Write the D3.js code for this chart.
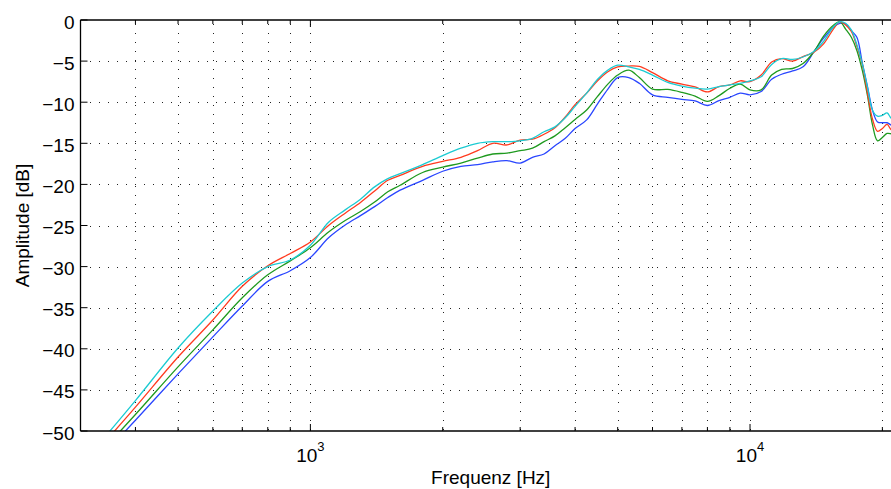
<!DOCTYPE html>
<html><head><meta charset="utf-8">
<script src="https://cdn.jsdelivr.net/npm/d3@7"></script>
<style>
body{margin:0;background:#fff;}
svg{display:block;}
text{font-family:"Liberation Sans",Arial,Helvetica,sans-serif;fill:#000;}
</style></head><body>
<svg id="chart" width="891" height="489"></svg>
<script>
// ---- data ----
const freqs = [340,400,500,600,700,800,900,1000,1100,1200,1300,1400,1500,1600,1800,2000,2200,2400,2600,2800,3000,3200,3400,3600,3800,4000,4250,4500,4750,5000,5300,5600,6000,6500,7000,7500,8000,8500,9000,9500,10000,10600,11200,11800,12500,13200,14000,14700,15500,16000,16500,17000,17500,18000,18500,19000,19500,20000,20500,21000,22050];
const cyanDb = [-50.8,-46.3,-39.9,-35.4,-32.0,-30.0,-29.2,-27.4,-24.6,-23.1,-21.8,-20.3,-19.3,-18.7,-17.6,-16.5,-15.6,-15.0,-14.8,-14.8,-14.7,-14.4,-13.6,-13.0,-11.9,-10.5,-8.9,-7.2,-6.1,-5.5,-5.7,-6.0,-6.7,-7.6,-8.05,-8.3,-8.4,-8.1,-7.9,-7.7,-7.4,-6.9,-5.4,-4.7,-4.8,-4.5,-3.8,-2.6,-0.8,-0.2,-0.4,-1.2,-3.0,-5.3,-8.2,-11.0,-11.7,-11.6,-11.3,-12.0,-12.2];
const redDb = [-51.4,-47.1,-41.0,-36.5,-32.4,-29.9,-28.4,-27.0,-25.0,-23.5,-22.2,-20.8,-19.5,-18.9,-17.8,-17.2,-16.7,-15.9,-15.0,-15.2,-14.6,-14.5,-13.9,-13.1,-11.8,-10.3,-8.9,-7.4,-6.3,-5.7,-5.6,-5.65,-6.4,-7.4,-7.8,-8.15,-8.75,-8.1,-7.9,-7.4,-7.5,-6.7,-5.1,-4.7,-5.0,-4.45,-3.9,-2.9,-1.05,-0.2,-0.6,-1.4,-3.2,-5.4,-8.9,-12.1,-13.55,-13.2,-12.7,-13.4,-13.6];
const greenDb = [-52.1,-48.0,-42.2,-37.7,-33.8,-31.0,-29.3,-27.7,-25.8,-24.4,-23.3,-22.15,-20.9,-20.1,-18.55,-17.9,-17.4,-16.8,-16.3,-16.2,-15.9,-15.6,-14.8,-14.1,-13.1,-12.1,-10.95,-9.3,-7.8,-6.7,-6.1,-7.0,-8.4,-8.45,-8.8,-9.25,-9.9,-9.2,-8.3,-7.8,-8.5,-8.5,-6.7,-6.0,-5.9,-5.3,-3.8,-1.95,-0.6,-0.2,-1.1,-2.1,-3.7,-6.1,-9.2,-12.8,-14.7,-14.3,-13.8,-13.85,-14.1];
const blueDb = [-52.7,-48.7,-43.05,-38.55,-34.8,-31.8,-30.5,-28.9,-26.5,-24.95,-23.8,-22.7,-21.6,-20.7,-19.5,-18.4,-17.8,-17.6,-17.25,-17.1,-17.4,-16.7,-16.3,-15.3,-14.4,-13.2,-12.15,-10.2,-8.4,-7.0,-7.0,-7.7,-9.1,-9.4,-9.65,-9.85,-10.4,-9.8,-9.4,-8.9,-9.1,-8.7,-7.2,-6.6,-6.2,-5.7,-3.8,-2.2,-0.85,-0.4,-0.5,-1.3,-2.1,-5.2,-8.1,-11.0,-12.4,-12.5,-12.5,-12.8,-12.9];
const seriesColors = ["#2a46ff","#1f9a1f","#ff3b1f","#1ccbd2"];
const seriesValues = [blueDb, greenDb, redDb, cyanDb];

const yTicks = [0,-5,-10,-15,-20,-25,-30,-35,-40,-45,-50];
const xMajorTicks = [1000,10000];
const xMajorExp = ["3","4"];
const xMinorTicks = [400,500,600,700,800,900,2000,3000,4000,5000,6000,7000,8000,9000,20000];
const xDomain = [300,22050];
const yDomain = [-50,0];

// ---- layout ----
const L = 80.5, R = 901, T = 20, B = 431;
const svg = d3.select("#chart");
const x = d3.scaleLog().domain(xDomain).range([L,R]);
const y = d3.scaleLinear().domain(yDomain).range([B,T]);

// grid
const grid = svg.append("g").attr("stroke","#222").attr("stroke-width",1).attr("stroke-dasharray","1,8").attr("shape-rendering","crispEdges");
yTicks.filter(v=>v>-50 && v<0).forEach(v=>{
  grid.append("line").attr("x1",L+9).attr("x2",R).attr("y1",Math.round(y(v))+0.5).attr("y2",Math.round(y(v))+0.5);
});
xMajorTicks.concat(xMinorTicks).forEach(f=>{
  grid.append("line").attr("x1",Math.round(x(f))+0.5).attr("x2",Math.round(x(f))+0.5).attr("y1",B-1).attr("y2",T);
});

// series
svg.append("clipPath").attr("id","clip").append("rect").attr("x",L).attr("y",T).attr("width",R-L).attr("height",B-T);
const line = d3.line().x((d,i)=>x(freqs[i])).y(d=>y(d)).curve(d3.curveCatmullRom.alpha(0.5));
const gl = svg.append("g").attr("clip-path","url(#clip)");
seriesValues.forEach((vals,k)=>{
  gl.append("path").datum(vals).attr("d",line).attr("fill","none").attr("stroke",seriesColors[k]).attr("stroke-width",1.3);
});

// axes box
const ax = svg.append("g").attr("stroke","#000").attr("stroke-width",1.3).attr("fill","none");
ax.append("line").attr("x1",L).attr("x2",L).attr("y1",T).attr("y2",B);
ax.append("line").attr("x1",L).attr("x2",R).attr("y1",B).attr("y2",B);
ax.append("line").attr("x1",L).attr("x2",R).attr("y1",T).attr("y2",T);

// ticks
const tk = svg.append("g").attr("stroke","#000").attr("stroke-width",1);
yTicks.forEach(v=>{
  tk.append("line").attr("x1",L).attr("x2",L+7).attr("y1",y(v)).attr("y2",y(v));
});
xMajorTicks.forEach(f=>{
  tk.append("line").attr("x1",x(f)).attr("x2",x(f)).attr("y1",B).attr("y2",B-7);
  tk.append("line").attr("x1",x(f)).attr("x2",x(f)).attr("y1",T).attr("y2",T+7);
});
xMinorTicks.forEach(f=>{
  tk.append("line").attr("x1",x(f)).attr("x2",x(f)).attr("y1",B).attr("y2",B-4);
  tk.append("line").attr("x1",x(f)).attr("x2",x(f)).attr("y1",T).attr("y2",T+4);
});

// tick labels
const fs = 19;
yTicks.forEach(v=>{
  svg.append("text").attr("x",74.5).attr("y",y(v)+8.5).attr("text-anchor","end").attr("font-size",fs)
    .text(v===0 ? "0" : "\u2212"+Math.abs(v));
});
xMajorTicks.forEach((f,i)=>{
  const t = svg.append("text").attr("x",x(f)).attr("y",461.5).attr("text-anchor","middle").attr("font-size",fs);
  t.append("tspan").text("10");
  t.append("tspan").attr("font-size",13).attr("dy",-10.5).text(xMajorExp[i]);
});

// axis titles
svg.append("text").attr("x",(L+R)/2).attr("y",484).attr("text-anchor","middle").attr("font-size",fs).text("Frequenz [Hz]");
svg.append("text").attr("transform","translate(28.5,"+((T+B)/2)+") rotate(-90)").attr("text-anchor","middle").attr("font-size",fs).text("Amplitude [dB]");
</script>
</body></html>
